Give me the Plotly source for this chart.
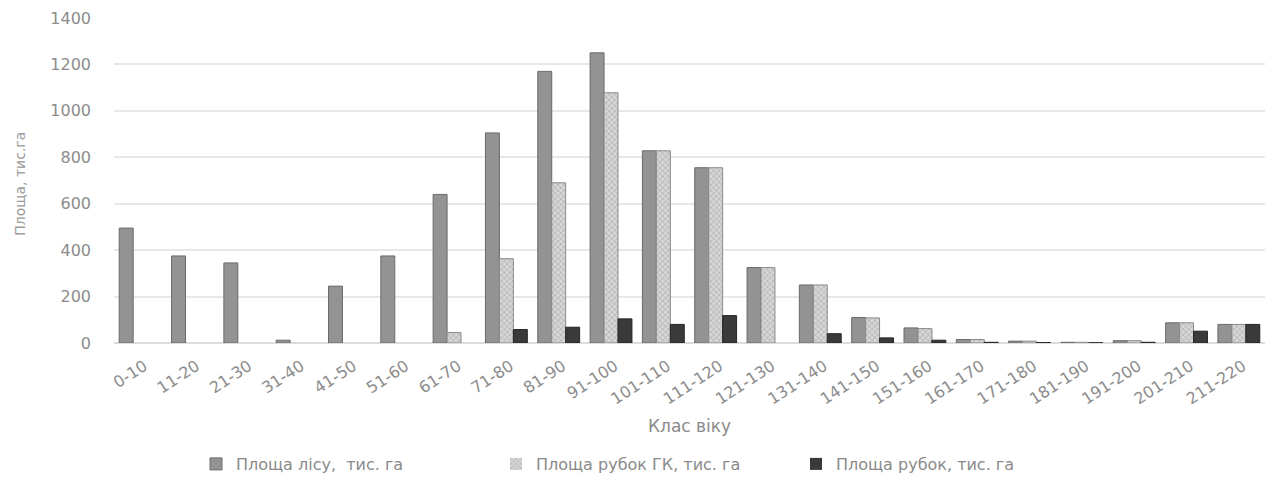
import plotly.graph_objects as go

categories = ["0-10", "11-20", "21-30", "31-40", "41-50", "51-60", "61-70", "71-80",
              "81-90", "91-100", "101-110", "111-120", "121-130", "131-140", "141-150",
              "151-160", "161-170", "171-180", "181-190", "191-200", "201-210", "211-220"]
forest_area = [495, 375, 345, 12, 245, 375, 640, 905, 1170, 1250, 828, 755, 325, 250,
               110, 65, 15, 8, 3, 10, 87, 80]
gk_cut_area = [0, 0, 0, 0, 0, 0, 45, 363, 690, 1078, 828, 755, 325, 250,
               108, 62, 15, 8, 3, 10, 87, 80]
cut_area = [0, 0, 0, 0, 0, 0, 0, 58, 68, 104, 80, 118, 0, 40,
            22, 12, 3, 2, 1, 3, 51, 80]
series_names = ["Площа лісу,  тис. га", "Площа рубок ГК, тис. га", "Площа рубок, тис. га"]
y_ticks = [0, 200, 400, 600, 800, 1000, 1200, 1400]

FONT = "DejaVu Sans"
W, H = 1265, 481
ML, MR, MT, MB = 114, 0, 18, 137
plot_w = W - ML - MR
plot_h = H - MT - MB


def edge_widths(values):
    return [1 if v > 0 else 0 for v in values]


fig = go.Figure()
fig.add_trace(go.Bar(
    x=categories, y=forest_area, name=series_names[0],
    marker=dict(color="#939393",
                line=dict(color="#6a6a6a", width=edge_widths(forest_area))),
))
fig.add_trace(go.Bar(
    x=categories, y=gk_cut_area, name=series_names[1],
    marker=dict(color="#cfcfcf",
                line=dict(color="#8a8a8a", width=edge_widths(gk_cut_area)),
                pattern=dict(shape="x", size=4, solidity=0.35,
                             fgcolor="#8c8c8c", bgcolor="#d6d6d6")),
))
fig.add_trace(go.Bar(
    x=categories, y=cut_area, name=series_names[2],
    marker=dict(color="#3a3a3a",
                line=dict(color="#262626", width=edge_widths(cut_area))),
))

fig.update_layout(
    width=W, height=H,
    margin=dict(l=ML, r=MR, t=MT, b=MB),
    paper_bgcolor="white", plot_bgcolor="white",
    barmode="group", bargap=0.2, bargroupgap=0,
    font=dict(family=FONT, color="#8c8c8c"),
    showlegend=True,
    legend=dict(orientation="h", x=(196 - ML) / plot_w, xanchor="left",
                y=(MT + plot_h - 466) / plot_h, yanchor="middle",
                font=dict(family=FONT, size=16, color="#8a8a8a"),
                itemwidth=30, entrywidth=255, entrywidthmode="pixels",
                traceorder="normal"),
    xaxis=dict(
        tickangle=-33, tickfont=dict(family=FONT, size=16, color="#8c8c8c"),
        showgrid=False, showline=False, ticks="", ticklabelstandoff=10,
        ticklabelshift=4,
    ),
    yaxis=dict(
        range=[0, 1400], tickvals=y_ticks, ticktext=[str(v) for v in y_ticks],
        tickfont=dict(family=FONT, size=16, color="#8c8c8c"),
        gridcolor="#e8e8e8", gridwidth=2, zeroline=True, zerolinecolor="#dcdcdc",
        zerolinewidth=2, showline=False, ticks="", ticklabelstandoff=22,
    ),
    annotations=[
        dict(text="Площа, тис.га", textangle=-90, xref="paper", yref="paper",
             x=(20 - ML) / plot_w, y=0.49, xanchor="center", yanchor="middle",
             showarrow=False, font=dict(family=FONT, size=14, color="#9a9a9a")),
        dict(text="Клас віку", xref="paper", yref="paper",
             x=0.5, y=(MT + plot_h - 427) / plot_h, xanchor="center", yanchor="middle",
             showarrow=False, font=dict(family=FONT, size=17, color="#8a8a8a")),
    ],
)

fig.write_html("out.html")
